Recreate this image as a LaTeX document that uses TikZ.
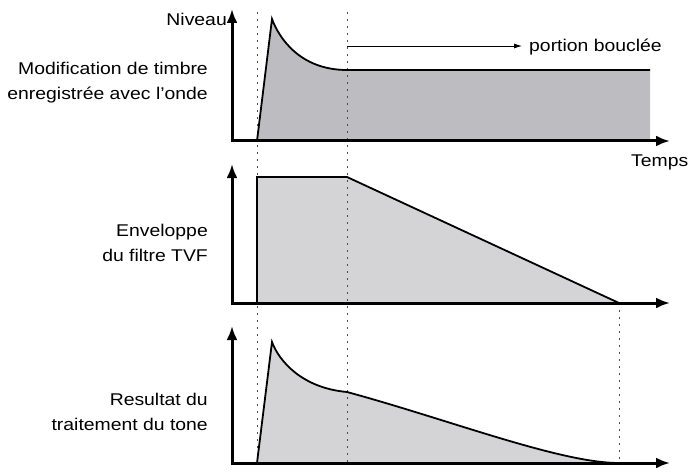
\documentclass[tikz,border=0pt]{standalone}
\usepackage{fontspec}
\setmainfont{Liberation Sans}[FakeStretch=1.14]
\usetikzlibrary{arrows.meta,positioning}

\definecolor{wavegray}{RGB}{189,189,193}
\definecolor{envgray}{RGB}{212,212,214}

\begin{document}
\begin{tikzpicture}[x=1pt,y=-1pt,
	axis/.style={line width=3pt,{Latex[length=14pt,width=11pt]}-{Latex[length=14pt,width=11pt]}},
	guide/.style={black!70,line width=0.9pt,dash pattern=on 2pt off 5pt},
	curve/.style={line width=1.8pt},
	lbl/.style={font=\fontsize{17}{25}\selectfont,inner sep=0pt,align=right}]
			\useasboundingbox (0,0) rectangle (695,473);
			
			% areas
			\fill[wavegray] (257,141) -- (272,19) .. controls (279,38) and (300,70) .. (347,70) -- (650,70) -- (650,141) -- cycle;
			\fill[envgray] (257,303) -- (257,177) -- (347,177) -- (619,303) -- cycle;
			\fill[envgray] (257,463) -- (272,342) .. controls (279,361) and (302,388) .. (347,392) .. controls (450,420) and (560,463) .. (619,463) -- cycle;
			
			% time marks
			\draw[guide] (257,12) -- (257,463);
			\draw[guide] (347,12) -- (347,463);
			\draw[guide] (619,303) -- (619,463);
			
			% curves
			\draw[curve] (257,141) -- (272,19) .. controls (279,38) and (300,70) .. (347,70) -- (650,70);
			\draw[curve] (257,303) -- (257,177) -- (347,177) -- (619,303);
			\draw[curve] (257,463) -- (272,342) .. controls (279,361) and (302,388) .. (347,392) .. controls (450,420) and (560,463) .. (619,463);
			
			% axes
			\draw[axis] (232,9) -- (232,141) -- (670,141);
			\draw[axis] (232,164) -- (232,303) -- (670,303);
			\draw[axis] (232,326) -- (232,463) -- (670,463);
			
			% texts
			\node[lbl,anchor=base east] (niveau) at (227,26) {Niveau};
			\node[lbl,anchor=base west] (temps) at (631,167) {Temps};
			\node[lbl,anchor=base west] (loopnote) at (529,52) {portion bouclée};
			\coordinate (loopstart) at (347,46);
			\draw[line width=0.8pt,-{Latex[length=8pt,width=5pt]}] (loopstart) -- ([xshift=-7pt]loopnote.west |- loopstart);
			
			\node[lbl,anchor=base east] (wavelbl) at (208,100) {Modification de timbre\\enregistrée avec l'onde};
			\node[lbl,anchor=base east] (tvflbl) at (208,261) {Enveloppe\\du filtre TVF};
			\node[lbl,anchor=base east] (tonelbl) at (208,430) {Resultat du\\traitement du tone};
			
\end{tikzpicture}
\end{document}
